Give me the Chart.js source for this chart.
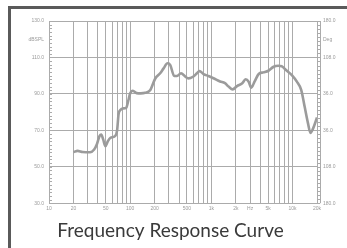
<!DOCTYPE html>
<html>
<head>
    <title>Frequency Response Curve</title>
    <script src="https://cdn.jsdelivr.net/npm/chart.js"></script>
    <style>
        body { margin: 0; width: 347px; height: 248px; overflow: hidden; background: #fff; position: relative; }
        .frame { position: absolute; left: 8px; top: 6px; width: 400px; height: 300px; border: 3px solid #5a5a5a; box-sizing: border-box; }
        #wrap { position: absolute; left: 0; top: 0; width: 347px; height: 248px; }
    </style>
</head>
<body>
    <div class="frame"></div>
    <div id="wrap"><canvas id="frChart"></canvas></div>

    <script>
        // frequency (Hz) and sound pressure level (dB SPL)
        const freqs = [20, 22.5, 26, 32, 36, 39, 42, 44, 46.5, 49.5, 53, 57, 65, 69, 72, 76, 81, 89, 95, 100,
            108, 120, 135, 153, 176, 203, 234, 258, 288, 312, 348, 377, 423, 479, 521, 594, 664, 714, 800, 920,
            1060, 1280, 1470, 1630, 1830, 2070, 2400, 2640, 2880, 3100, 3400, 3830, 4380, 5050, 5840, 6700, 7350,
            8300, 9800, 11300, 12800, 14100, 15500, 16600, 17700, 20000];
        const spl = [58, 58.7, 58.1, 58, 59.5, 62.5, 67, 67.7, 65, 61.3, 64, 65.9, 66.8, 70, 79, 81.2, 82, 82.2, 86.5, 90.3,
            91.7, 90.4, 90.3, 90.6, 92, 98.3, 101.3, 104, 106.8, 105.8, 99.8, 99.8, 101.3, 99.4, 98.5, 99.4, 101.3, 102.5, 100.9, 99.8,
            98.6, 96.8, 95.9, 94, 92.5, 94.3, 95.8, 98, 96.7, 93.4, 96.7, 100.9, 101.8, 102.7, 104.9, 105.4, 105.2,
            103.1, 100.3, 96.7, 92.1, 82.9, 73.8, 68.6, 70.5, 77];

        const freqGrid = [10, 20, 30, 40, 50, 60, 70, 80, 90, 100, 200, 300, 400, 500, 600, 700, 800, 900,
            1000, 2000, 3000, 4000, 5000, 6000, 7000, 8000, 9000, 10000, 20000];
        const freqLabels = { 10: '10', 20: '20', 50: '50', 100: '100', 200: '200', 500: '500', 1000: '1k',
            2000: '2k', 3000: 'Hz', 5000: '5k', 10000: '10k', 20000: '20k' };
        const splLabels = { 130: '130.0', 120: 'dBSPL', 110: '110.0', 90: '90.0', 70: '70.0', 50: '50.0', 30: '30.0' };
        const phaseLabels = { 180: '180.0', 144: 'Deg', 108: '108.0', 36: '36.0', '-36': '36.0', '-108': '108.0', '-180': '180.0' };

        const gridCol = '#ababab';
        const labelCol = '#9a9a9a';
        const tickFont = { family: 'Liberation Sans', size: 5 };

        // small inner tick marks along both vertical axes
        const minorTicks = {
            id: 'minorTicks',
            afterDraw(chart) {
                const { ctx, chartArea, scales } = chart;
                ctx.save();
                ctx.strokeStyle = gridCol;
                ctx.lineWidth = 1;
                ctx.beginPath();
                for (let v = 30; v <= 130; v += 2) {
                    const y = Math.round(scales.y.getPixelForValue(v)) + 0.5;
                    ctx.moveTo(chartArea.left, y);
                    ctx.lineTo(chartArea.left + 3, y);
                }
                for (let v = -180; v <= 180; v += 8) {
                    const y = Math.round(scales.y2.getPixelForValue(v)) + 0.5;
                    ctx.moveTo(chartArea.right, y);
                    ctx.lineTo(chartArea.right + 3, y);
                }
                const x2 = Math.round(chartArea.right + 3) + 0.5;
                ctx.moveTo(x2, chartArea.top);
                ctx.lineTo(x2, chartArea.bottom);
                ctx.stroke();
                ctx.restore();
            }
        };

        const ctx = document.getElementById('frChart').getContext('2d');
        const frChart = new Chart(ctx, {
            type: 'line',
            data: {
                datasets: [{
                    data: freqs.map((f, i) => ({ x: f, y: spl[i] })),
                    borderColor: '#9b9b9b',
                    borderWidth: 2.6,
                    pointRadius: 0,
                    cubicInterpolationMode: 'monotone',
                    yAxisID: 'y'
                }]
            },
            options: {
                responsive: true,
                maintainAspectRatio: false,
                animation: false,
                layout: { padding: { top: 21, left: 0, right: 6, bottom: 0 } },
                plugins: {
                    legend: { display: false },
                    tooltip: { enabled: false },
                    title: {
                        display: true,
                        position: 'bottom',
                        text: 'Frequency Response Curve',
                        color: '#3a3a3a',
                        font: { family: 'Lato', size: 19, weight: 'normal' },
                        padding: { top: 0, bottom: 6 }
                    }
                },
                scales: {
                    x: {
                        type: 'logarithmic',
                        min: 10,
                        max: 20000,
                        afterBuildTicks: s => { s.ticks = freqGrid.map(v => ({ value: v })); },
                        afterFit: s => { s.height = 16; },
                        grid: { color: gridCol, lineWidth: 1, drawTicks: false },
                        border: { color: gridCol },
                        ticks: {
                            autoSkip: false,
                            maxRotation: 0,
                            padding: 2,
                            color: labelCol,
                            font: tickFont,
                            callback: v => freqLabels[v] || ''
                        }
                    },
                    y: {
                        position: 'left',
                        min: 30,
                        max: 130,
                        afterBuildTicks: s => {
                            const t = [];
                            for (let v = 30; v <= 130; v += 10) t.push({ value: v });
                            s.ticks = t;
                        },
                        afterFit: s => { s.width = 49; },
                        grid: {
                            color: c => ((c.tick.value - 30) % 20 === 0 ? gridCol : 'rgba(0,0,0,0)'),
                            lineWidth: 1,
                            drawTicks: false
                        },
                        border: { color: gridCol },
                        ticks: {
                            autoSkip: false,
                            padding: 5,
                            color: labelCol,
                            font: tickFont,
                            callback: v => splLabels[v] || ''
                        }
                    },
                    y2: {
                        position: 'right',
                        min: -180,
                        max: 180,
                        afterBuildTicks: s => {
                            const t = [];
                            for (let v = -180; v <= 180; v += 36) t.push({ value: v });
                            s.ticks = t;
                        },
                        afterFit: s => { s.width = 24; },
                        grid: { drawOnChartArea: false, drawTicks: false },
                        border: { color: gridCol },
                        ticks: {
                            autoSkip: false,
                            padding: 6,
                            color: labelCol,
                            font: tickFont,
                            callback: v => phaseLabels[v] || ''
                        }
                    }
                }
            },
            plugins: [minorTicks]
        });
    </script>
</body>
</html>
